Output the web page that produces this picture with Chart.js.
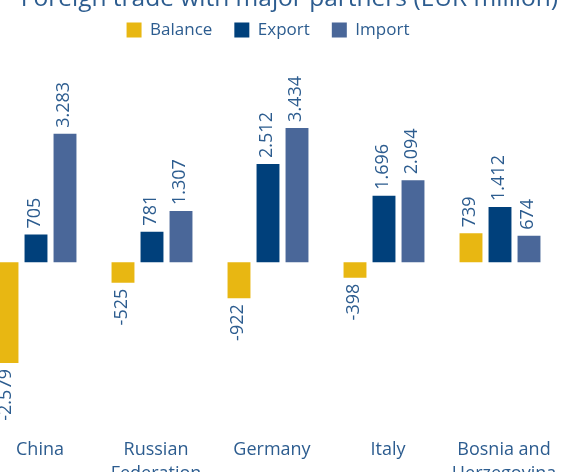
<!DOCTYPE html>
<html>
<head>
<meta charset="utf-8">
<script src="https://cdn.jsdelivr.net/npm/chart.js@4.4.0/dist/chart.umd.min.js"></script>
<style>
    html, body { margin: 0; padding: 0; background: #fff; overflow: hidden; }
    #wrap { position: relative; width: 578px; height: 472px; overflow: hidden; }
    #box { position: absolute; left: -22px; top: -19px; width: 600px; height: 514px; }
</style>
</head>
<body>
<div id="wrap"><div id="box"><canvas id="chart"></canvas></div></div>
<script>
const chartTitle = "Foreign trade with major partners (EUR million)";
const countries = ["China", ["Russian", "Federation"], "Germany", "Italy", ["Bosnia and", "Herzegovina"]];
const seriesNames = ["Balance", "Export", "Import"];
const balanceValues = [-2579, -525, -922, -398, 739];
const exportValues = [705, 781, 2512, 1696, 1412];
const importValues = [3283, 1307, 3434, 2094, 674];

const textColor = "#2C5C8F";
const seriesColors = ["#E8B712", "#00407B", "#4A6799"];

Chart.defaults.font.family = "'Open Sans', sans-serif";

// 3283 -> "3.283", -2579 -> "-2.579"
function formatNumber(v) {
    let s = Math.abs(v).toString().replace(/\B(?=(\d{3})+(?!\d))/g, ".");
    return (v < 0 ? "-" : "") + s;
}

// vertical value labels above / below each bar
const valueLabels = {
    id: "valueLabels",
    afterDatasetsDraw(chart) {
        const ctx = chart.ctx;
        ctx.save();
        ctx.font = "18px 'Open Sans', sans-serif";
        ctx.fillStyle = textColor;
        ctx.textBaseline = "middle";
        chart.data.datasets.forEach((ds, i) => {
            chart.getDatasetMeta(i).data.forEach((bar, j) => {
                let v = ds.data[j];
                ctx.save();
                ctx.translate(bar.x - 1, v >= 0 ? bar.y - 6 : bar.y + 6);
                ctx.rotate(-Math.PI / 2);
                ctx.textAlign = v >= 0 ? "left" : "right";
                ctx.fillText(formatNumber(v), 0, 0);
                ctx.restore();
            });
        });
        ctx.restore();
    }
};

const allSeries = [balanceValues, exportValues, importValues];

new Chart(document.getElementById("chart"), {
    type: "bar",
    data: {
        labels: countries,
        datasets: allSeries.map((values, i) => ({
            label: seriesNames[i],
            data: values,
            backgroundColor: seriesColors[i],
            borderWidth: 0,
            barPercentage: 0.79,
            categoryPercentage: 0.75
        }))
    },
    options: {
        responsive: true,
        maintainAspectRatio: false,
        animation: false,
        layout: { padding: { left: 0, right: 20, top: 0, bottom: 0 } },
        plugins: {
            title: {
                display: true,
                text: chartTitle,
                align: "end",
                color: textColor,
                font: { size: 24.5, weight: "normal" },
                padding: { top: 3, bottom: -14 }
            },
            legend: {
                labels: {
                    boxWidth: 15,
                    boxHeight: 15,
                    color: textColor,
                    font: { size: 17 },
                    padding: 22
                }
            },
            tooltip: { enabled: false }
        },
        scales: {
            x: {
                grid: { display: false },
                border: { display: false },
                ticks: {
                    color: textColor,
                    font: { size: 18, lineHeight: 1.35 },
                    maxRotation: 0,
                    autoSkip: false,
                    labelOffset: 4,
                    padding: 9
                }
            },
            y: { display: false, min: -4046, max: 5467 }
        }
    },
    plugins: [valueLabels]
});
</script>
</body>
</html>
